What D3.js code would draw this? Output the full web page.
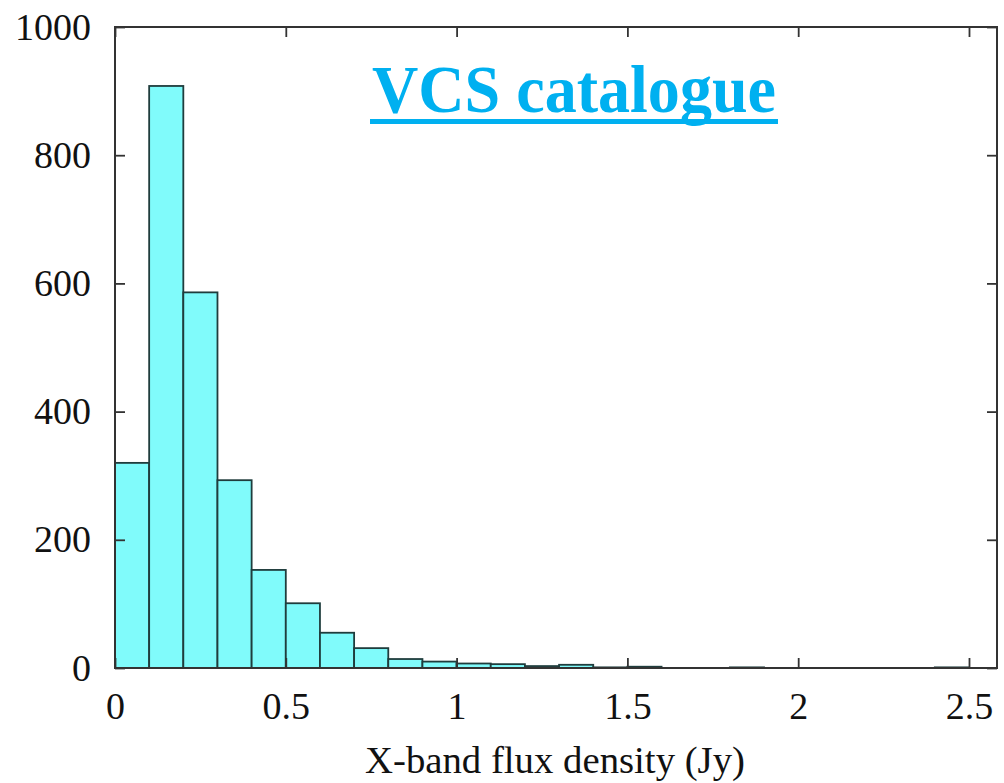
<!DOCTYPE html>
<html>
<head>
<meta charset="utf-8">
<script src="https://cdn.jsdelivr.net/npm/d3@7"></script>
<style>
  body { margin: 0; background: #fff; }
  svg { display: block; }
  text { font-family: "Liberation Serif", "DejaVu Serif", serif; }
</style>
</head>
<body>
<svg id="hist" width="1004" height="783"></svg>
<script>
// Histogram bins (lower edge in Jy) and counts
const bin_starts = [0, 0.1, 0.2, 0.3, 0.4, 0.5, 0.6, 0.7, 0.8, 0.9, 1.0, 1.1, 1.2,
                    1.3, 1.4, 1.5, 1.6, 1.7, 1.8, 1.9, 2.0, 2.1, 2.2, 2.3, 2.4];
const bin_counts = [320, 908, 586, 293, 153, 101, 55, 31, 14, 10, 7, 6, 3,
                    5, 1, 2, 0, 0, 1, 0, 0, 0, 0, 0, 1];
const bin_width = 0.1;

const x_ticks = [0, 0.5, 1, 1.5, 2, 2.5];
const y_ticks = [0, 200, 400, 600, 800, 1000];

const title_text = 'VCS catalogue';
const x_label = 'X-band flux density (Jy)';

const svg = d3.select('#hist');

// plot frame
const plot = { left: 115, right: 997, top: 27, bottom: 668 };

const xScale = d3.scaleLinear().domain([0, 2.582]).range([plot.left, plot.right]);
const yScale = d3.scaleLinear().domain([0, 1000]).range([plot.bottom, plot.top]);

const bars = bin_starts.map((s, i) => ({ x0: s, x1: s + bin_width, n: bin_counts[i] }));

// bars
svg.append('g')
    .selectAll('rect')
    .data(bars)
    .join('rect')
    .attr('x', d => xScale(d.x0))
    .attr('y', d => yScale(d.n))
    .attr('width', d => xScale(d.x1) - xScale(d.x0))
    .attr('height', d => yScale(0) - yScale(d.n))
    .attr('fill', '#80fbfb')
    .attr('stroke', '#1f3d3d')
    .attr('stroke-width', 1.8);

// axes with inward ticks, mirrored on top/right
const tickLen = 10;
const styleAxis = g => {
    g.select('.domain').remove();
    g.selectAll('.tick line').attr('stroke', '#333').attr('stroke-width', 1.8);
    g.selectAll('.tick text')
        .attr('fill', '#111')
        .style('font-size', '38px');
};

svg.append('g')
    .attr('transform', `translate(0,${plot.bottom})`)
    .call(d3.axisBottom(xScale).tickValues(x_ticks).tickSize(-tickLen).tickPadding(24)
        .tickFormat(d3.format('')))
    .call(styleAxis);

svg.append('g')
    .attr('transform', `translate(0,${plot.top})`)
    .call(d3.axisTop(xScale).tickValues(x_ticks).tickSize(-tickLen).tickFormat(''))
    .call(styleAxis);

svg.append('g')
    .attr('transform', `translate(${plot.left},0)`)
    .call(d3.axisLeft(yScale).tickValues(y_ticks).tickSize(-tickLen).tickPadding(24)
        .tickFormat(d3.format('d')))
    .call(styleAxis);

svg.append('g')
    .attr('transform', `translate(${plot.right},0)`)
    .call(d3.axisRight(yScale).tickValues(y_ticks).tickSize(-tickLen).tickFormat(''))
    .call(styleAxis);

// frame
svg.append('rect')
    .attr('x', plot.left)
    .attr('y', plot.top)
    .attr('width', plot.right - plot.left)
    .attr('height', plot.bottom - plot.top)
    .attr('fill', 'none')
    .attr('stroke', '#333')
    .attr('stroke-width', 2);

// x axis label
svg.append('text')
    .attr('x', 555)
    .attr('y', 773)
    .attr('text-anchor', 'middle')
    .attr('fill', '#111')
    .attr('textLength', 380)
    .attr('lengthAdjust', 'spacingAndGlyphs')
    .style('font-size', '37px')
    .text(x_label);

// title with underline
svg.append('text')
    .attr('x', 372)
    .attr('y', 112)
    .attr('fill', '#00b0f0')
    .attr('textLength', 404)
    .attr('lengthAdjust', 'spacingAndGlyphs')
    .style('font-size', '68px')
    .style('font-weight', 'bold')
    .text(title_text);

svg.append('rect')
    .attr('x', 370)
    .attr('y', 119)
    .attr('width', 408)
    .attr('height', 5)
    .attr('fill', '#00b0f0');
</script>
</body>
</html>
